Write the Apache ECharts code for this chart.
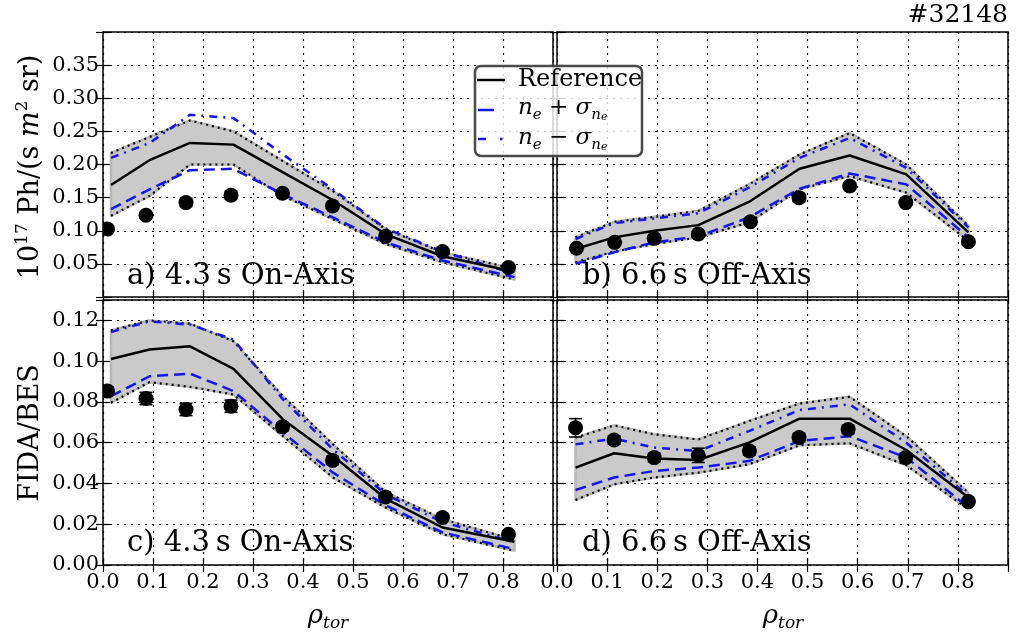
<!DOCTYPE html>
<html><head><meta charset="utf-8">
<script src="https://cdn.jsdelivr.net/npm/echarts@6/dist/echarts.min.js"></script>
<style>html,body{margin:0;padding:0;background:#fff}#c{width:1018px;height:634px}</style>
</head><body><div id="c"></div>
<script>
// ---------- data ----------
const xTickLabels = ['0.0','0.1','0.2','0.3','0.4','0.5','0.6','0.7','0.8'];
const topYTicks = ['0.05','0.10','0.15','0.20','0.25','0.30','0.35'];
const bottomYTicks = ['0.00','0.02','0.04','0.06','0.08','0.10','0.12'];
const panelLabels = ['a) 4.3\u2009s On-Axis','b) 6.6\u2009s Off-Axis','c) 4.3\u2009s On-Axis','d) 6.6\u2009s Off-Axis'];
const shotLabel = '#32148';

// Panel a) 4.3 s on-axis, absolute
const rhoModelA = [0.016, 0.093, 0.174, 0.261, 0.360, 0.460, 0.565, 0.679, 0.823];
const refA      = [0.169, 0.2065, 0.2325, 0.230, 0.188, 0.146, 0.095, 0.0615, 0.038];
const bandUpA   = [0.2175, 0.2415, 0.2665, 0.250, 0.205, 0.160, 0.1025, 0.0675, 0.0425];
const bandLoA   = [0.1225, 0.1525, 0.200, 0.200, 0.1525, 0.1175, 0.080, 0.0525, 0.0265];
const nePlusA   = [0.1325, 0.1625, 0.1915, 0.1935, 0.155, 0.120, 0.0825, 0.055, 0.030];
const neMinusA  = [0.210, 0.2325, 0.275, 0.270, 0.215, 0.1625, 0.1035, 0.0685, 0.035];
const rhoDataA  = [0.009, 0.086, 0.166, 0.256, 0.359, 0.459, 0.565, 0.679, 0.811];
const measA     = [0.1025, 0.1235, 0.1425, 0.1535, 0.1565, 0.1375, 0.0915, 0.0685, 0.0445];
const errA      = [0.004, 0.004, 0.006, 0.006, 0.005, 0.005, 0.004, 0.003, 0.003];

// Panel b) 6.6 s off-axis, absolute
const rhoModelB = [0.037, 0.114, 0.194, 0.282, 0.383, 0.484, 0.584, 0.697, 0.821];
const refB      = [0.0725, 0.090, 0.100, 0.1085, 0.1435, 0.1935, 0.2135, 0.185, 0.0975];
const bandUpB   = [0.090, 0.1135, 0.121, 0.130, 0.170, 0.215, 0.2475, 0.200, 0.1075];
const bandLoB   = [0.0525, 0.0685, 0.080, 0.090, 0.1125, 0.1625, 0.1825, 0.1575, 0.085];
const nePlusB   = [0.050, 0.0675, 0.0825, 0.0915, 0.120, 0.1635, 0.1865, 0.170, 0.090];
const neMinusB  = [0.0875, 0.1115, 0.1185, 0.1265, 0.165, 0.210, 0.240, 0.195, 0.105];
const rhoDataB  = [0.039, 0.115, 0.194, 0.282, 0.386, 0.483, 0.584, 0.696, 0.821];
const measB     = [0.0735, 0.0825, 0.0885, 0.095, 0.1135, 0.150, 0.1675, 0.1425, 0.0835];
const errB      = [0.004, 0.004, 0.004, 0.004, 0.004, 0.006, 0.005, 0.004, 0.004];

// Panel c) 4.3 s on-axis, FIDA/BES
const rhoModelC = [0.016, 0.093, 0.174, 0.261, 0.360, 0.460, 0.565, 0.679, 0.823];
const refC      = [0.1011, 0.1057, 0.1073, 0.0962, 0.0714, 0.0535, 0.0326, 0.0184, 0.0114];
const bandUpC   = [0.1151, 0.1200, 0.1184, 0.1097, 0.0828, 0.0592, 0.0358, 0.0225, 0.0123];
const bandLoC   = [0.0796, 0.0897, 0.0874, 0.0836, 0.0632, 0.0429, 0.0282, 0.0151, 0.0070];
const nePlusC   = [0.0828, 0.0926, 0.0939, 0.0853, 0.0649, 0.0453, 0.0293, 0.0160, 0.0078];
const neMinusC  = [0.1143, 0.1195, 0.1179, 0.1106, 0.0812, 0.0567, 0.0347, 0.0211, 0.0111];
const rhoDataC  = [0.009, 0.086, 0.166, 0.256, 0.359, 0.459, 0.565, 0.679, 0.811];
const measC     = [0.0853, 0.0817, 0.0763, 0.0779, 0.0678, 0.0513, 0.0334, 0.0233, 0.0151];
const errC      = [0.002, 0.003, 0.003, 0.003, 0.002, 0.002, 0.0015, 0.0015, 0.0015];

// Panel d) 6.6 s off-axis, FIDA/BES
const rhoModelD = [0.037, 0.114, 0.194, 0.282, 0.383, 0.484, 0.584, 0.697, 0.821];
const refD      = [0.0478, 0.0548, 0.0522, 0.0515, 0.0600, 0.0718, 0.0718, 0.0564, 0.0331];
const bandUpD   = [0.0625, 0.0685, 0.0641, 0.0616, 0.0706, 0.0792, 0.0825, 0.0632, 0.0355];
const bandLoD   = [0.0319, 0.0396, 0.0429, 0.0453, 0.0494, 0.0587, 0.0597, 0.0489, 0.0274];
const nePlusD   = [0.0368, 0.0429, 0.0461, 0.0478, 0.0510, 0.0608, 0.0632, 0.0527, 0.0282];
const neMinusD  = [0.0592, 0.0620, 0.0576, 0.0559, 0.0657, 0.0760, 0.0788, 0.0600, 0.0339];
const rhoDataD  = [0.037, 0.114, 0.194, 0.282, 0.384, 0.483, 0.581, 0.696, 0.821];
const measD     = [0.0673, 0.0613, 0.0527, 0.0538, 0.0559, 0.0625, 0.0665, 0.0527, 0.0311];
const errD      = [0.0045, 0.002, 0.002, 0.0035, 0.002, 0.002, 0.002, 0.002, 0.0015];

// ---------- chart ----------
const FONT = 'DejaVu Serif';
const BLUE = '#1414f0';
const panels = [
  {xs: rhoModelA, ref: refA, up: bandUpA, lo: bandLoA, plus: nePlusA, minus: neMinusA, dx: rhoDataA, dv: measA, de: errA},
  {xs: rhoModelB, ref: refB, up: bandUpB, lo: bandLoB, plus: nePlusB, minus: neMinusB, dx: rhoDataB, dv: measB, de: errB},
  {xs: rhoModelC, ref: refC, up: bandUpC, lo: bandLoC, plus: nePlusC, minus: neMinusC, dx: rhoDataC, dv: measC, de: errC},
  {xs: rhoModelD, ref: refD, up: bandUpD, lo: bandLoD, plus: nePlusD, minus: neMinusD, dx: rhoDataD, dv: measD, de: errD}
];
const grids = [
  {left: 103, top: 32, width: 450, height: 265},
  {left: 557, top: 32, width: 451, height: 265},
  {left: 103, top: 300, width: 450, height: 265},
  {left: 557, top: 300, width: 451, height: 265}
].map(g => Object.assign(g, {show: true, borderColor: '#000', borderWidth: 1.5, backgroundColor: 'transparent', containLabel: false}));

const tickStyle = {inside: true, length: 7, lineStyle: {color: '#000', width: 1.2}};
const gridLine = {show: true, lineStyle: {type: [2, 5], color: '#000', width: 1.2}};
const xAxes = [], yAxes = [];
for (let gi = 0; gi < 4; gi++) {
  const bottomRow = gi >= 2;
  xAxes.push({type: 'value', gridIndex: gi, min: 0, max: 0.9, interval: 0.1, position: 'bottom',
    axisLine: {show: false}, axisTick: tickStyle, splitLine: gridLine,
    axisLabel: {show: bottomRow, margin: 7, color: '#000', fontFamily: FONT, fontSize: 21,
      formatter: v => { const i = Math.round(v * 10); return (Math.abs(v * 10 - i) < 1e-6 && i < xTickLabels.length) ? xTickLabels[i] : ''; }}});
  xAxes.push({type: 'value', gridIndex: gi, min: 0, max: 0.9, interval: 0.1, position: 'top',
    axisLine: {show: false}, axisTick: tickStyle, splitLine: {show: false}, axisLabel: {show: false}});
  const yMax = bottomRow ? 0.13 : 0.40, yInt = bottomRow ? 0.02 : 0.05;
  const labels = bottomRow ? bottomYTicks : topYTicks;
  yAxes.push({type: 'value', gridIndex: gi, min: 0, max: yMax, interval: yInt, position: 'left',
    axisLine: {show: false}, axisTick: tickStyle, splitLine: gridLine,
    axisLabel: {show: gi % 2 === 0, margin: 4, color: '#000', fontFamily: FONT, fontSize: 21,
      formatter: v => { const s = v.toFixed(2); return labels.indexOf(s) >= 0 ? s : ''; }}});
  yAxes.push({type: 'value', gridIndex: gi, min: 0, max: yMax, interval: yInt, position: 'right',
    axisLine: {show: false}, axisTick: tickStyle, splitLine: {show: false}, axisLabel: {show: false}});
}

function lineS(gi, xs, ys, color, width, type, z) {
  return {type: 'line', xAxisIndex: 2 * gi, yAxisIndex: 2 * gi, data: xs.map((x, i) => [x, ys[i]]),
    showSymbol: false, symbol: 'none', silent: true, z: z, clip: true,
    lineStyle: {color: color, width: width, type: type, cap: 'butt'}};
}
function bandS(gi, p) {
  return {type: 'custom', xAxisIndex: 2 * gi, yAxisIndex: 2 * gi, z: 1, clip: true, silent: true,
    data: [[p.xs[0], p.up[0]]],
    renderItem: function (params, api) {
      const pts = [];
      for (let i = 0; i < p.xs.length; i++) pts.push(api.coord([p.xs[i], p.up[i]]));
      for (let i = p.xs.length - 1; i >= 0; i--) pts.push(api.coord([p.xs[i], p.lo[i]]));
      return {type: 'polygon', shape: {points: pts}, style: {fill: '#cacaca', stroke: '#b8b8b8', lineWidth: 2.5, lineJoin: 'round'}};
    }};
}
function pointS(gi, p) {
  return {type: 'custom', xAxisIndex: 2 * gi, yAxisIndex: 2 * gi, z: 8, clip: true, silent: true,
    data: p.dx.map((x, i) => [x, p.dv[i], p.de[i]]), encode: {x: 0, y: 1},
    renderItem: function (params, api) {
      const x = api.value(0), y = api.value(1), e = api.value(2);
      const c = api.coord([x, y]), t = api.coord([x, y + e]), b = api.coord([x, y - e]);
      const hw = 6.5, st = {stroke: '#000', lineWidth: 1.6};
      return {type: 'group', children: [
        {type: 'line', shape: {x1: c[0], y1: t[1], x2: c[0], y2: b[1]}, style: st},
        {type: 'line', shape: {x1: c[0] - hw, y1: t[1], x2: c[0] + hw, y2: t[1]}, style: st},
        {type: 'line', shape: {x1: c[0] - hw, y1: b[1], x2: c[0] + hw, y2: b[1]}, style: st},
        {type: 'circle', shape: {cx: c[0], cy: c[1], r: 7.5}, style: {fill: '#000'}}
      ]};
    }};
}

const series = [];
panels.forEach((p, gi) => {
  series.push(bandS(gi, p));
  series.push(lineS(gi, p.xs, p.up, '#000', 2.2, [2, 4], 2));
  series.push(lineS(gi, p.xs, p.lo, '#000', 2.2, [2, 4], 2));
  series.push(lineS(gi, p.xs, p.plus, BLUE, 2.5, [11, 6], 3));
  series.push(lineS(gi, p.xs, p.minus, BLUE, 2.5, [8, 6, 2, 6], 3));
  series.push(lineS(gi, p.xs, p.ref, '#000', 2.5, 'solid', 4));
  series.push(pointS(gi, p));
});

const mathRich = {
  it: {fontFamily: FONT, fontStyle: 'italic', fontSize: 23, lineHeight: 30, color: '#000'},
  op: {fontFamily: FONT, fontSize: 23, lineHeight: 30, color: '#000'},
  sub: {fontFamily: FONT, fontStyle: 'italic', fontSize: 15, lineHeight: 17, verticalAlign: 'bottom', color: '#000'},
  subsub: {fontFamily: FONT, fontStyle: 'italic', fontSize: 11, lineHeight: 11, verticalAlign: 'bottom', color: '#000'},
  n: {fontFamily: FONT, fontSize: 27, lineHeight: 34, color: '#000'},
  ni: {fontFamily: FONT, fontStyle: 'italic', fontSize: 27, lineHeight: 34, color: '#000'},
  sup: {fontFamily: FONT, fontSize: 17, lineHeight: 34, verticalAlign: 'top', color: '#000'},
  rho: {fontFamily: FONT, fontStyle: 'italic', fontSize: 26, lineHeight: 32, color: '#000'},
  tor: {fontFamily: FONT, fontStyle: 'italic', fontSize: 17, lineHeight: 20, verticalAlign: 'bottom', color: '#000'}
};

const graphic = [];
const labelPos = [[127, 276], [582, 276], [127, 543], [582, 543]];
panelLabels.forEach((t, i) => graphic.push({type: 'text', x: labelPos[i][0], y: labelPos[i][1], z: 50,
  style: {text: t, fontFamily: FONT, fontSize: 29, fill: '#000', align: 'left', verticalAlign: 'middle'}}));
graphic.push({type: 'text', x: 1008, y: 15, z: 50, style: {text: shotLabel, fontFamily: FONT, fontSize: 25, fill: '#000', align: 'right', verticalAlign: 'middle'}});
// axis titles
graphic.push({type: 'text', x: 31, y: 167, rotation: Math.PI / 2, z: 50,
  style: {text: '{n|10}{sup|17}{n| Ph/(s }{ni|m}{sup|2}{n| sr)}', rich: mathRich, align: 'center', verticalAlign: 'middle'}});
graphic.push({type: 'text', x: 31, y: 433, rotation: Math.PI / 2, z: 50,
  style: {text: 'FIDA/BES', fontFamily: FONT, fontSize: 27, fill: '#000', align: 'center', verticalAlign: 'middle'}});
[328, 783].forEach(cx => graphic.push({type: 'text', x: cx, y: 616, z: 50,
  style: {text: '{rho|\u03c1}{tor|tor}', rich: mathRich, align: 'center', verticalAlign: 'middle'}}));
// legend box
graphic.push({type: 'rect', z: 90, shape: {x: 475, y: 66, width: 167, height: 90, r: 6},
  style: {fill: 'rgba(255,255,255,0.82)', stroke: '#4a4a4a', lineWidth: 2.5}});
graphic.push({type: 'line', z: 91, shape: {x1: 477, y1: 80, x2: 505, y2: 80}, style: {stroke: '#000', lineWidth: 2.5}});
graphic.push({type: 'line', z: 91, shape: {x1: 478, y1: 110, x2: 494, y2: 110}, style: {stroke: BLUE, lineWidth: 2.5}});
graphic.push({type: 'line', z: 91, shape: {x1: 478, y1: 139, x2: 486, y2: 139}, style: {stroke: BLUE, lineWidth: 2.5}});
graphic.push({type: 'line', z: 91, shape: {x1: 500, y1: 139, x2: 502.5, y2: 139}, style: {stroke: BLUE, lineWidth: 2.5}});
graphic.push({type: 'text', x: 518, y: 80, z: 91, style: {text: 'Reference', fontFamily: FONT, fontSize: 24, fill: '#000', align: 'left', verticalAlign: 'middle'}});
graphic.push({type: 'text', x: 518, y: 108, z: 91, style: {text: '{it|n}{sub|e}{op| + }{it|\u03c3}{sub|n}{subsub|e}', rich: mathRich, align: 'left', verticalAlign: 'middle'}});
graphic.push({type: 'text', x: 518, y: 138, z: 91, style: {text: '{it|n}{sub|e}{op| \u2212 }{it|\u03c3}{sub|n}{subsub|e}', rich: mathRich, align: 'left', verticalAlign: 'middle'}});

const chart = echarts.init(document.getElementById('c'), null, {renderer: 'canvas'});
chart.setOption({
  animation: false,
  backgroundColor: '#fff',
  grid: grids,
  xAxis: xAxes,
  yAxis: yAxes,
  series: series,
  graphic: graphic
});
</script></body></html>
